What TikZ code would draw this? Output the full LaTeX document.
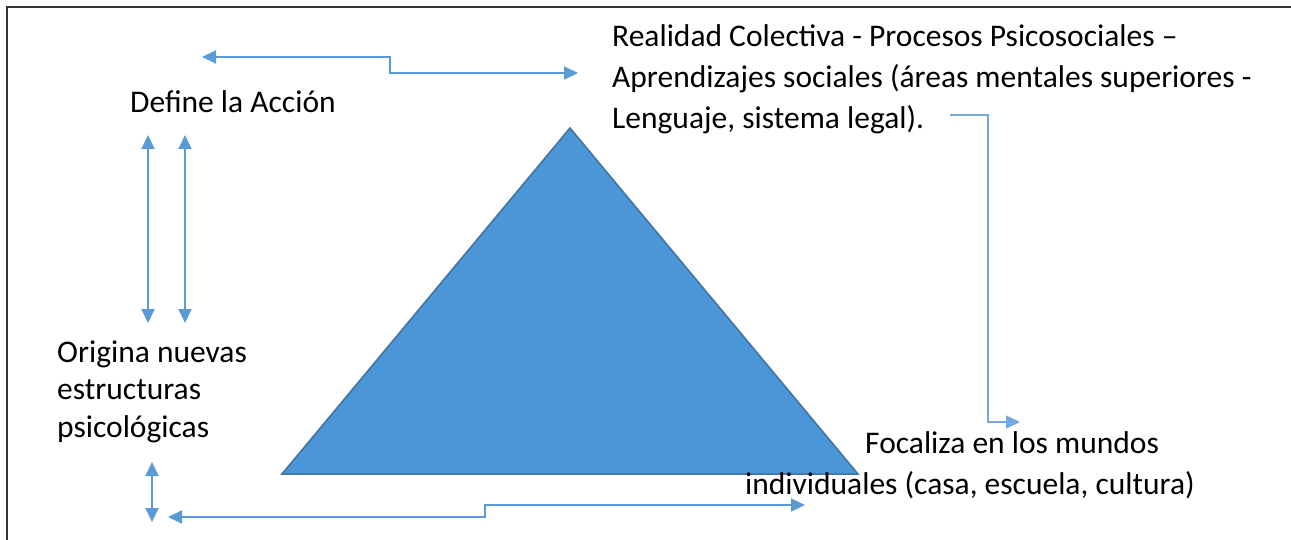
\documentclass[tikz,border=0pt]{standalone}
\usepackage{fontspec}
\setmainfont{Carlito}
\usetikzlibrary{arrows.meta}
\definecolor{arr}{RGB}{91,155,213}
\definecolor{trifill}{RGB}{74,150,214}
\definecolor{triedge}{RGB}{65,113,156}
\begin{document}
\begin{tikzpicture}[x=1pt,y=-1pt,
  conn/.style={draw=arr, line width=2pt, -{Triangle[length=14pt,width=13pt]}},
  both/.style={draw=arr, line width=2pt, {Triangle[length=14pt,width=13pt]}-{Triangle[length=14pt,width=13pt]}},
  thin/.style={draw=arr!85, line width=1.5pt, -{Triangle[length=14pt,width=13pt]}},
  lbl/.style={font=\fontsize{31.5}{41}\selectfont, inner sep=0pt, align=left, anchor=base west}]
\useasboundingbox (0,0) rectangle (1291,540);
\draw[line width=2pt, black!80] (7,540) -- (7,7) -- (1291,7);
% triangle
\coordinate (apex) at (570,128);
\coordinate (bl) at (282,474);
\coordinate (br) at (858,474);
\path[fill=trifill, draw=triedge, line width=1.5pt, line join=miter] (apex) -- (bl) -- (br) -- cycle;
% texts (base anchor = baseline of the last line)
\node[lbl] (real) at (612,129) {Realidad Colectiva - Procesos Psicosociales –\\Aprendizajes sociales (áreas mentales superiores -\\Lenguaje, sistema legal).};
\node[lbl] (def) at (130,113) {Define la Acción};
\node[lbl, font=\fontsize{31.5}{37.5}\selectfont] (orig) at (57,437) {Origina nuevas\\estructuras\\psicológicas};
\node[lbl] (foc) at (745,494) {\hspace*{120pt}Focaliza en los mundos\\individuales (casa, escuela, cultura)};
% top connector
\coordinate (t1) at (202,57);
\coordinate (t2) at (578,73);
\draw[both] (t1) -- (390,57) -- (390,73) -- (t2);
% vertical connectors
\coordinate (v1a) at (148,135); \coordinate (v1b) at (148,323);
\coordinate (v2a) at (185,135); \coordinate (v2b) at (185,323);
\draw[both] (v1a) -- (v1b);
\draw[both] (v2a) -- (v2b);
\coordinate (v3a) at (152,462); \coordinate (v3b) at (152,522);
\draw[both] (v3a) -- (v3b);
% bottom connector
\coordinate (b1) at (168,517);
\coordinate (b2) at (805,505);
\draw[both] (b1) -- (485,517) -- (485,505) -- (b2);
% right connector
\coordinate (r1) at (950,115);
\coordinate (r2) at (1020,422);
\draw[thin] (r1) -- (988,115) -- (988,422) -- (r2);
\end{tikzpicture}
\end{document}
